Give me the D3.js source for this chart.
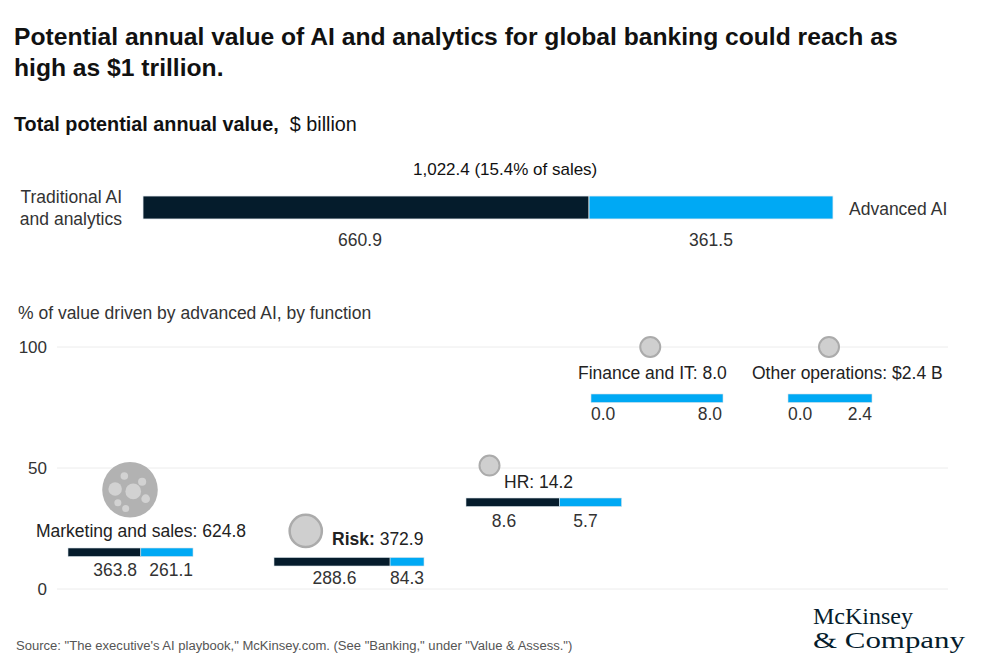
<!DOCTYPE html>
<html>
<head>
<meta charset="utf-8">
<script src="https://cdn.jsdelivr.net/npm/d3@7"></script>
<style>
  html, body { margin: 0; padding: 0; background: #fff; }
  svg { display: block; font-family: "Liberation Sans", Arial, Helvetica, sans-serif; }
</style>
</head>
<body>
<svg id="chart" width="1000" height="671"></svg>
<script>
// ---------------- DATA ----------------
const titleLines = ["Potential annual value of AI and analytics for global banking could reach as", "high as $1 trillion."];
const totalCategories = ["Traditional AI and analytics", "Advanced AI"];
const totalValues = [660.9, 361.5];
const shareOfSales = 15.4;

const functions = ["Marketing and sales", "Risk", "HR", "Finance and IT", "Other operations"];
const traditionalValues = [363.8, 288.6, 8.6, 0.0, 0.0];
const advancedValues = [261.1, 84.3, 5.7, 8.0, 2.4];
const functionTotals = [624.8, 372.9, 14.2, 8.0, 2.4];
const advancedSharePct = [41, 24, 51, 100, 100]; // % of value driven by advanced AI (circle height)
const yTicks = [0, 50, 100];

const sourceText = 'Source: "The executive\'s AI playbook," McKinsey.com. (See "Banking," under "Value & Assess.")';

// ---------------- STYLE / LAYOUT ----------------
const NAVY = "#051c2c", BLUE = "#00a9f4", TEXT = "#222", SUB = "#333";
const FS = 17.5;
const topLabelShift = [-6, 0];
const layout = [
  { nudge: 0,  bx: 68,  bw: 125, by: 548,   lx: 141, la: "middle", ly: 537, v: [[137, "end"], [193, "end"]], vy: 576 },
  { nudge: 1,  bx: 274, bw: 150, by: 557.5, lx: 332, la: "start",  ly: 545, v: [[334.5, "middle"], [424, "end"]], vy: 584 },
  { nudge: 10, bx: 466, bw: 154.5, by: 498, lx: 504, la: "start",  ly: 488, v: [[504, "middle"], [585.5, "middle"]], vy: 527 },
  { nudge: -4, bx: 591, bw: 132, by: 394,   lx: 578, la: "start",  ly: 379, v: [[591, "start"], [722, "end"]], vy: 420 },
  { nudge: 0,  bx: 788, bw: 84,  by: 394,   lx: 752, la: "start",  ly: 379, v: [[788, "start"], [872, "end"]], vy: 420 }
];
// decorative inner bubbles of the largest circle (relative to radius)
const innerBubbles = [[0.12, 0.06, 0.29], [-0.55, -0.03, 0.25], [-0.21, -0.51, 0.14], [0.45, -0.30, 0.15],
                      [0.58, 0.33, 0.16], [-0.45, 0.48, 0.13], [-0.16, 0.69, 0.13]];

const svg = d3.select("#chart");
const fmt1 = d3.format(".1f");
const fmtC = d3.format(",.1f");

function fitWidth(sel, target) {
  const w = sel.node().getComputedTextLength();
  const fs = parseFloat(sel.attr("font-size"));
  sel.attr("font-size", fs * target / w);
  return fs * target / w;
}

// ---------------- TITLE ----------------
const t1 = svg.append("text").attr("x", 14).attr("y", 45).attr("font-size", 22).attr("font-weight", 700)
  .attr("fill", "#111").text(titleLines[0]);
const tfs = fitWidth(t1, 884);
svg.append("text").attr("x", 14).attr("y", 76).attr("font-size", tfs).attr("font-weight", 700)
  .attr("fill", "#111").text(titleLines[1]);

const sub = svg.append("text").attr("x", 14).attr("y", 131).attr("font-size", 17).attr("fill", "#111");
sub.append("tspan").attr("font-weight", 700).text("Total potential annual value,");
sub.append("tspan").text("\u00a0\u00a0$ billion");
fitWidth(sub, 343);

// ---------------- TOP STACKED BAR ----------------
const grand = d3.sum(totalValues);
const xTop = d3.scaleLinear().domain([0, grand]).range([143, 833]);
const starts = [0, ...d3.cumsum(totalValues)].slice(0, totalValues.length);
const topColors = [NAVY, BLUE];

svg.append("g").selectAll("rect").data(totalValues).join("rect")
  .attr("x", (d, i) => xTop(starts[i]))
  .attr("y", 196)
  .attr("width", (d, i) => xTop(starts[i] + d) - xTop(starts[i]))
  .attr("height", 23)
  .attr("fill", (d, i) => topColors[i])
  .attr("stroke", "#e8eef2").attr("stroke-width", 0.8);

svg.append("g").selectAll("text").data(totalValues).join("text")
  .attr("x", (d, i) => xTop(starts[i] + d / 2) + topLabelShift[i])
  .attr("y", 246)
  .attr("text-anchor", "middle").attr("font-size", FS).attr("fill", SUB)
  .text(d => fmt1(d));

svg.append("text").attr("x", 413).attr("y", 175)
  .attr("font-size", 17).attr("fill", "#111")
  .text(`${fmtC(grand)} (${fmt1(shareOfSales)}% of sales)`);

const leftLab = svg.append("text").attr("x", 122).attr("y", 203).attr("text-anchor", "end")
  .attr("font-size", FS).attr("fill", SUB);
const words = totalCategories[0].split(" ");
leftLab.append("tspan").attr("x", 122).text(words.slice(0, 2).join(" "));
leftLab.append("tspan").attr("x", 122).attr("dy", 22).text(words.slice(2).join(" "));
svg.append("text").attr("x", 849).attr("y", 215).attr("font-size", FS).attr("fill", SUB)
  .text(totalCategories[1]);

// ---------------- LOWER CHART ----------------
const y = d3.scaleLinear().domain([0, 100]).range([589, 347]);
const xPos = d3.scalePoint().domain(functions).range([130, 829]);
const rScale = d3.scaleLinear().domain([0, d3.max(functionTotals)]).range([0, 27]);

svg.append("text").attr("x", 18).attr("y", 319).attr("font-size", FS).attr("fill", SUB)
  .text("% of value driven by advanced AI, by function");

const grid = svg.append("g");
grid.selectAll("line").data(yTicks).join("line")
  .attr("x1", 57).attr("x2", 948)
  .attr("y1", d => y(d)).attr("y2", d => y(d))
  .attr("stroke", "#ececec").attr("stroke-width", 1);
grid.selectAll("text").data(yTicks).join("text")
  .attr("x", 47).attr("y", d => y(d) + 6).attr("text-anchor", "end")
  .attr("font-size", 17).attr("fill", SUB).text(d => d);

functions.forEach((name, i) => {
  const L = layout[i];
  const cx = xPos(name) + L.nudge;
  const cy = y(advancedSharePct[i]);
  const r = Math.max(10, rScale(functionTotals[i]));
  const g = svg.append("g");

  if (i === 0) {
    g.append("circle").attr("cx", cx).attr("cy", cy).attr("r", r + 0.8).attr("fill", "#b2b2b2");
    g.selectAll("circle.inner").data(innerBubbles).join("circle").attr("class", "inner")
      .attr("cx", d => cx + d[0] * r).attr("cy", d => cy + d[1] * r).attr("r", d => d[2] * r)
      .attr("fill", "#d2d2d2");
  } else {
    g.append("circle").attr("cx", cx).attr("cy", cy).attr("r", r)
      .attr("fill", "#cfcfcf").attr("stroke", "#ababab").attr("stroke-width", i === 1 ? 2.5 : 2);
  }

  // label
  const valText = i === 4 ? `$${fmt1(functionTotals[i])} B` : fmt1(functionTotals[i]);
  const lab = g.append("text").attr("x", L.lx).attr("y", L.ly).attr("text-anchor", L.la)
    .attr("font-size", FS).attr("fill", TEXT);
  lab.append("tspan").attr("font-weight", i === 1 ? 700 : 400).text(name + ":");
  lab.append("tspan").text(" " + valText);

  // mini stacked bar
  const xb = d3.scaleLinear().domain([0, functionTotals[i]]).range([L.bx, L.bx + L.bw]);
  const segs = [traditionalValues[i], advancedValues[i]];
  const segStart = [0, traditionalValues[i]];
  g.selectAll("rect").data(segs).join("rect")
    .attr("x", (d, k) => xb(segStart[k]))
    .attr("y", L.by)
    .attr("width", (d, k) => Math.max(0, xb(segStart[k] + d) - xb(segStart[k])))
    .attr("height", 8.5)
    .attr("fill", (d, k) => k === 0 ? NAVY : BLUE)
    .attr("stroke", (d, k) => d > 0 ? "#d8e2e8" : "none").attr("stroke-width", 0.6);

  g.selectAll("text.val").data(segs).join("text").attr("class", "val")
    .attr("x", (d, k) => L.v[k][0]).attr("y", L.vy)
    .attr("text-anchor", (d, k) => L.v[k][1])
    .attr("font-size", FS).attr("fill", SUB)
    .text(d => fmt1(d));
});

// ---------------- FOOTER ----------------
const src = svg.append("text").attr("x", 16).attr("y", 650).attr("font-size", 11.5).attr("fill", "#555")
  .text(sourceText);
fitWidth(src, 557);

const logo1 = svg.append("text").attr("x", 813).attr("y", 624).attr("font-size", 24)
  .attr("font-family", "'Liberation Serif', 'DejaVu Serif', serif").attr("fill", NAVY).text("McKinsey");
fitWidth(logo1, 100);
svg.append("text").attr("x", 813).attr("y", 648).attr("font-size", 24)
  .attr("font-family", "'Liberation Serif', 'DejaVu Serif', serif").attr("fill", NAVY)
  .attr("textLength", 152).attr("lengthAdjust", "spacingAndGlyphs").text("& Company");
</script>
</body>
</html>
